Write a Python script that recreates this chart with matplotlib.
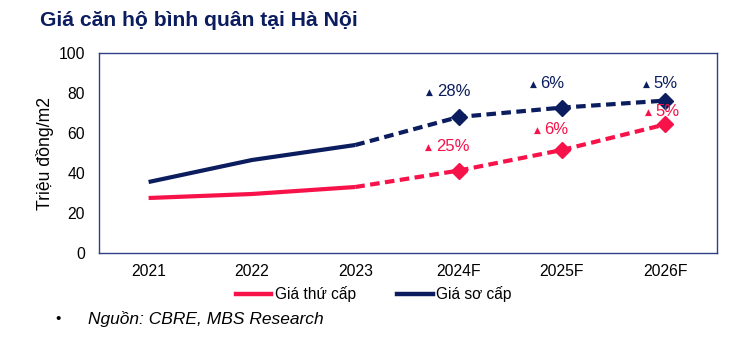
import matplotlib
matplotlib.use("Agg")
import matplotlib.pyplot as plt

categories = ["2021", "2022", "2023", "2024F", "2025F", "2026F"]
secondary = [27.5, 29.5, 33.0, 41.2, 51.5, 64.3]   # Giá thứ cấp
primary = [35.5, 46.5, 54.0, 68.0, 72.7, 76.2]     # Giá sơ cấp
secondary_growth = ["25%", "6%", "5%"]
primary_growth = ["28%", "6%", "5%"]
y_ticks = [0, 20, 40, 60, 80, 100]
n_actual = 3  # first three are actual, rest forecast

RED = "#F7124A"
NAVY = "#0B1D5E"
FONT = "Liberation Sans"
plt.rcParams['font.family'] = [FONT, 'DejaVu Sans']

fig = plt.figure(figsize=(7.52, 3.43), dpi=100)
ax = fig.add_axes([99/752, 1-253/343, (717-99)/752, (253-53)/343])

x = list(range(len(categories)))
lw = 3.0
for vals, col in [(secondary, RED), (primary, NAVY)]:
    ax.plot(x[:n_actual], vals[:n_actual], color=col, lw=lw, solid_capstyle='butt')
    ax.plot(x[n_actual-1:], vals[n_actual-1:], color=col, lw=lw, dashes=(2.3, 1.3))
    ax.plot(x[n_actual:], vals[n_actual:], ls='none', marker='D', ms=8, color=col)

# growth labels
prim_off = [(-29, 25), (-29, 23), (-19, 16)]
sec_off = [(-30, 23), (-25, 20), (-17, 12)]
for vals, labels, offs, col in [(primary, primary_growth, prim_off, NAVY),
                                (secondary, secondary_growth, sec_off, RED)]:
    for i, (lab, (dx, dy)) in enumerate(zip(labels, offs)):
        xi = x[n_actual + i]
        yi = vals[n_actual + i]
        ax.annotate("▲", (xi, yi), xytext=(dx, dy), textcoords='offset pixels',
                    ha='center', va='center', fontsize=6.5, color=col,
                    family=['DejaVu Sans'])
        ax.annotate(lab, (xi, yi), xytext=(dx + 7, dy + 1), textcoords='offset pixels',
                    ha='left', va='center', fontsize=12, color=col)

ax.set_xlim(-0.48, 5.5)
ax.set_ylim(0, 100)
ax.set_yticks(y_ticks)
ax.set_xticks(x)
ax.set_xticklabels(categories)
ax.tick_params(length=0, labelsize=11.3, colors='black', pad=8)
ax.tick_params(axis='y', pad=10)
for s in ax.spines.values():
    s.set_color("#2E3F86")
    s.set_linewidth(1.0)
ax.set_ylabel("Triệu đồng/m2", fontsize=12.7, labelpad=3)

fig.text(40/752, 1-21/343, "Giá căn hộ bình quân tại Hà Nội", fontsize=15.2,
         fontweight='bold', color=NAVY, va='center', ha='left')

# legend
leg = fig.legend(handles=[plt.Line2D([], [], color=RED, lw=3.2),
                          plt.Line2D([], [], color=NAVY, lw=3.2)],
                 labels=["Giá thứ cấp", "Giá sơ cấp"], loc='center',
                 bbox_to_anchor=(0.497, 1-294/343), ncol=2, frameon=False,
                 fontsize=11.2, handlelength=2.3, handletextpad=0.25,
                 columnspacing=2.6)

fig.text(55/752, 1-319/343, "•", fontsize=11, va='center', ha='left')
fig.text(88/752, 1-319/343, "Nguồn: CBRE, MBS Research", fontsize=12.5,
         style='italic', va='center', ha='left')

fig.savefig("out.png", dpi=100)
